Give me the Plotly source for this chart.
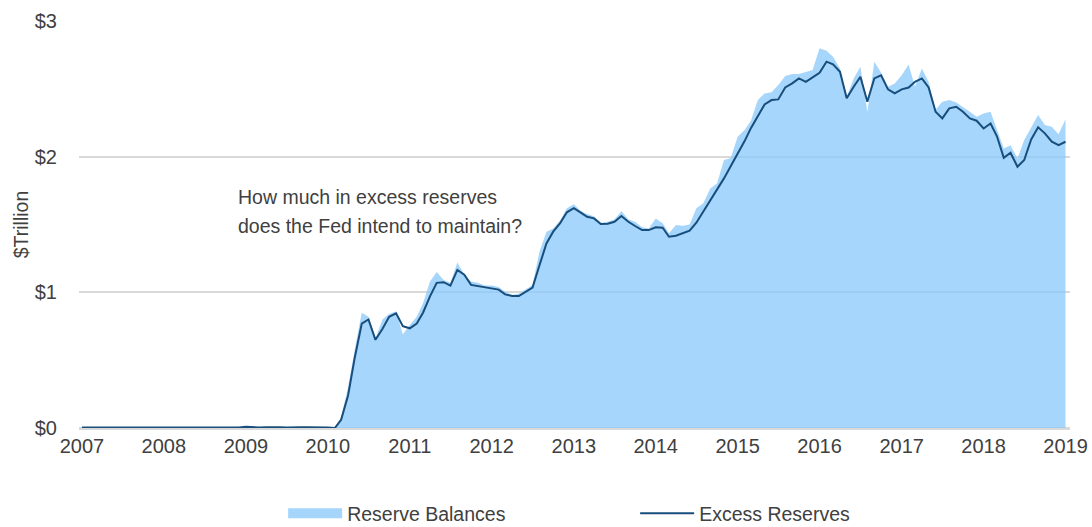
import plotly.graph_objects as go

# Monthly dates Jan 2007 .. Jan 2019
months = [f"{y}-{m:02d}-01" for y in range(2007, 2020) for m in range(1, 13)][:145]

# $ trillion
reserve_balances = [
    # 2007
    0, 0, 0, 0, 0, 0, 0, 0, 0, 0, 0, 0,
    # 2008
    0, 0, 0, 0, 0, 0, 0, 0, 0, 0, 0, 0,
    # 2009
    0, 0, 0, 0, 0, 0, 0, 0, 0, 0, 0, 0,
    # 2010
    0, 0.00, 0.08, 0.30, 0.58, 0.85, 0.82, 0.66, 0.80, 0.84, 0.86, 0.69,
    # 2011
    0.76, 0.82, 0.92, 1.08, 1.15, 1.09, 1.07, 1.22, 1.13, 1.08, 1.07, 1.05,
    # 2012
    1.05, 1.04, 1.005, 0.98, 0.99, 1.02, 1.054, 1.30, 1.447, 1.47, 1.53, 1.62,
    # 2013
    1.65, 1.60, 1.577, 1.56, 1.513, 1.52, 1.537, 1.60, 1.537, 1.52, 1.48, 1.47,
    # 2014
    1.545, 1.51, 1.435, 1.496, 1.49, 1.50, 1.62, 1.656, 1.766, 1.803, 1.975, 1.99,
    # 2015
    2.147, 2.196, 2.265, 2.417, 2.466, 2.474, 2.528, 2.594, 2.609, 2.61, 2.626, 2.638,
    # 2016
    2.80, 2.78, 2.736, 2.65, 2.44, 2.577, 2.663, 2.33, 2.70, 2.62, 2.515, 2.54,
    # 2017
    2.60, 2.68, 2.515, 2.65, 2.55, 2.345, 2.405, 2.417, 2.40, 2.368, 2.331, 2.294,
    # 2018
    2.319, 2.331, 2.20, 2.061, 2.085, 1.987, 2.122, 2.22, 2.307, 2.233, 2.22, 2.166,
    # 2019
    2.275,
]

excess_reserves = [
    # 2007
    0.004, 0.004, 0.004, 0.004, 0.004, 0.004, 0.004, 0.004, 0.004, 0.004, 0.004, 0.004,
    # 2008
    0.004, 0.004, 0.004, 0.004, 0.004, 0.004, 0.004, 0.004, 0.004, 0.003, 0.002, 0.004,
    # 2009
    0.010, 0.006, 0.004, 0.006, 0.008, 0.005, 0.004, 0.007, 0.006, 0.005, 0.006, 0.004,
    # 2010
    0.004, 0.00, 0.06, 0.24, 0.52, 0.77, 0.80, 0.65, 0.73, 0.82, 0.845, 0.75,
    # 2011
    0.735, 0.77, 0.85, 0.97, 1.07, 1.075, 1.05, 1.165, 1.13, 1.055, 1.045, 1.04,
    # 2012
    1.025, 1.02, 0.985, 0.973, 0.973, 1.005, 1.035, 1.20, 1.36, 1.447, 1.51, 1.59,
    # 2013
    1.62, 1.587, 1.557, 1.545, 1.503, 1.506, 1.52, 1.562, 1.52, 1.489, 1.459, 1.459,
    # 2014
    1.479, 1.476, 1.41, 1.417, 1.435, 1.454, 1.513, 1.594, 1.68, 1.76, 1.84, 1.93,
    # 2015
    2.02, 2.115, 2.21, 2.30, 2.385, 2.417, 2.422, 2.51, 2.54, 2.577, 2.552, 2.584,
    # 2016
    2.618, 2.70, 2.68, 2.626, 2.43, 2.515, 2.589, 2.405, 2.577, 2.60, 2.496, 2.466,
    # 2017
    2.496, 2.51, 2.552, 2.577, 2.51, 2.331, 2.282, 2.356, 2.368, 2.331, 2.282, 2.265,
    # 2018
    2.208, 2.245, 2.152, 1.992, 2.029, 1.926, 1.975, 2.127, 2.216, 2.172, 2.11, 2.085,
    # 2019
    2.11,
]

y_ticks = [0, 1, 2, 3]
y_tick_labels = ["$0", "$1", "$2", "$3"]
annotation_lines = ["How much in excess reserves", "does the Fed intend to maintain?"]

FONT = "Liberation Sans, Arial, sans-serif"
TEXT = "#404040"
FS = 19.5
AREA = "rgba(136,200,251,0.75)"

fig = go.Figure()
fig.add_trace(go.Scatter(
    x=months, y=reserve_balances, name="Reserve Balances", legendgroup="rb",
    mode="lines", fill="tozeroy", line=dict(width=0, color=AREA),
    fillcolor=AREA, hoverinfo="skip", showlegend=False,
))
# legend proxy for the area (draws nothing on the plot)
fig.add_trace(go.Scatter(
    x=[None], y=[None], name="Reserve Balances", legendgroup="rb",
    mode="lines", line=dict(width=15, color="#a6d5fb"), showlegend=True,
))
fig.add_trace(go.Scatter(
    x=months, y=excess_reserves, name="Excess Reserves",
    mode="lines", line=dict(width=2, color="#184e7c"),
))

fig.update_layout(
    width=1092, height=527,
    margin=dict(l=79, r=22, t=21, b=99, autoexpand=False),
    paper_bgcolor="white", plot_bgcolor="white",
    font=dict(family=FONT, size=FS, color=TEXT),
    showlegend=True,
    legend=dict(orientation="h", x=0.206, xanchor="left", y=-0.21, yanchor="middle",
                font=dict(family=FONT, size=FS, color=TEXT), entrywidth=283,
                itemwidth=54, traceorder="normal"),
    annotations=[
        dict(text=annotation_lines[0], xref="paper", yref="paper", x=0.158, y=(428 - 197) / 407,
             xanchor="left", yanchor="middle", align="left", showarrow=False,
             font=dict(family=FONT, size=FS, color=TEXT)),
        dict(text=annotation_lines[1], xref="paper", yref="paper", x=0.158, y=(428 - 226) / 407,
             xanchor="left", yanchor="middle", align="left", showarrow=False,
             font=dict(family=FONT, size=FS, color=TEXT)),
    ],
)
fig.update_xaxes(
    type="date", range=["2006-12-19", "2019-01-21"],
    tick0="2007-01-01", dtick="M12", tickformat="%Y",
    showgrid=False, showline=False, zeroline=False, ticks="",
    ticklabelstandoff=4, tickfont=dict(family=FONT, size=20, color=TEXT),
)
fig.update_yaxes(
    range=[0, 3], tickvals=y_ticks, ticktext=y_tick_labels,
    showgrid=True, gridcolor="#d9d9d9", gridwidth=1.5,
    zeroline=True, zerolinecolor="#d9d9d9", zerolinewidth=2.5,
    showline=False, ticks="", ticklabelstandoff=21,
    tickfont=dict(family=FONT, size=20, color=TEXT),
    title=dict(text="$Trillion", standoff=0, font=dict(family=FONT, size=FS, color=TEXT)),
)

fig.write_html("out.html", config={"displayModeBar": False},
               post_script="document.body.style.margin='0px';")
